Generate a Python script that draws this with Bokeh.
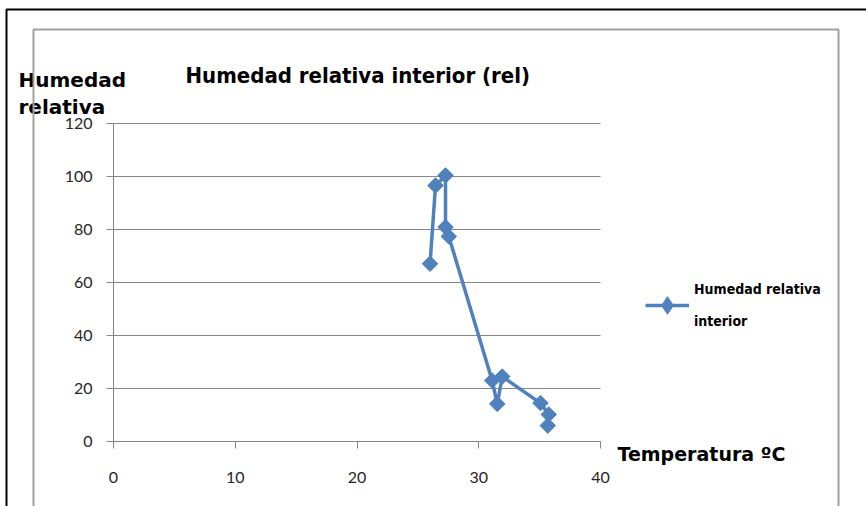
import numpy as np
from bokeh.plotting import figure
from bokeh.models import Range1d, FixedTicker, Label, Legend, LegendItem, BoxAnnotation, Grid
from bokeh.embed import file_html
from bokeh.resources import INLINE

# ---- data ----
temperatura = [26.0, 26.45, 27.27, 27.27, 27.54, 31.1, 31.52, 31.93, 35.07, 35.75, 35.67]
humedad = [67.1, 96.6, 100.4, 80.9, 77.4, 23.0, 14.2, 24.5, 14.5, 10.2, 6.0]
x_ticks = [0, 10, 20, 30, 40]
y_ticks = [0, 20, 40, 60, 80, 100, 120]
title_text = "Humedad relativa interior (rel)"
y_label_lines = ["Humedad", "relativa"]
x_label_text = "Temperatura ºC"
series_name = "Humedad relativa\n\ninterior"

BLUE = "#4F81BD"
GRAY = "#868686"
NARROW = "DejaVu Sans Condensed, Liberation Sans Narrow, DejaVu Sans, sans-serif"

# plot-area geometry in pixels (where 0..40 and 0..120 sit on the canvas)
FL, FR, FT, FB = 113, 600, 123, 441
W, H = 866, 506
X0, X1 = 0, 40
Y0, Y1 = 0, 120


def px2x(px):
    return X0 + (px - FL) / (FR - FL) * (X1 - X0)


def py2y(py):
    return Y0 + (FB - py) / (FB - FT) * (Y1 - Y0)


p = figure(width=W, height=H,
           x_range=Range1d(px2x(0), px2x(W)), y_range=Range1d(py2y(H), py2y(0)),
           output_backend="svg", toolbar_location=None, title=None,
           min_border=0)
p.background_fill_color = "white"
p.border_fill_color = "white"
p.outline_line_color = None

# axes placed at the data origin, limited to the data extent
for ax, ticks, bnds in ((p.xaxis, x_ticks, (X0, X1)), (p.yaxis, y_ticks, (Y0, Y1))):
    ax.ticker = FixedTicker(ticks=ticks)
    ax.fixed_location = 0
    ax.bounds = bnds
    ax.axis_line_color = GRAY
    ax.major_tick_line_color = GRAY
    ax.major_tick_out = 7
    ax.major_tick_in = 0
    ax.minor_tick_out = 0
    ax.minor_tick_in = 0
    ax.major_label_text_font = "Lato"
    ax.major_label_text_font_size = "16px"
    ax.major_label_text_color = "#262626"
p.xaxis.major_label_standoff = 23
p.yaxis.major_label_standoff = 14

p.xgrid.visible = False
if "cross_bounds" in Grid.properties():
    p.ygrid.ticker = FixedTicker(ticks=y_ticks)
    p.ygrid.bounds = (Y0, Y1)
    p.ygrid.cross_bounds = (X0, X1)
    p.ygrid.grid_line_color = GRAY
else:
    p.ygrid.visible = False
    p.segment(x0=[X0] * len(y_ticks), x1=[X1] * len(y_ticks), y0=y_ticks, y1=y_ticks,
              line_color=GRAY, line_width=1, level="underlay")

# series
line_r = p.line(temperatura, humedad, line_color=BLUE, line_width=3.5)
scat_r = p.scatter(temperatura, humedad, marker="square", size=11, angle=np.pi / 4,
                   fill_color=BLUE, line_color=BLUE)
# legend swatch marker: same series, hidden on the plot, diamond shape for the legend
leg_marker = p.scatter(temperatura, humedad, marker="diamond", size=13,
                       fill_color=BLUE, line_color=BLUE, visible=False)

# texts
p.add_layout(Label(x=px2x(185), y=py2y(75), text=title_text,
                   text_font=NARROW, text_font_style="bold", text_color="black",
                   text_font_size="22px", text_baseline="alphabetic", text_align="left"))
for txt, base in zip(y_label_lines, [79, 106]):
    p.add_layout(Label(x=px2x(18), y=py2y(base), text=txt,
                       text_font="DejaVu Sans", text_font_style="bold", text_color="black",
                       text_font_size="20px", text_baseline="alphabetic", text_align="left"))
p.add_layout(Label(x=px2x(617), y=py2y(453), text=x_label_text,
                   text_font="DejaVu Sans", text_font_style="bold", text_color="black",
                   text_font_size="19px", text_baseline="alphabetic", text_align="left"))

legend = Legend(items=[LegendItem(label=series_name, renderers=[line_r, leg_marker])],
                location=(645, H - 331), padding=0, margin=0,
                border_line_color=None, background_fill_alpha=0,
                glyph_width=44, glyph_height=52, label_standoff=5, spacing=0,
                label_text_font=NARROW, label_text_font_style="bold",
                label_text_color="black", label_text_font_size="14px")
p.add_layout(legend)

# chart borders
p.add_layout(BoxAnnotation(left=px2x(6), right=px2x(2000), top=py2y(9), bottom=py2y(2000),
                           fill_alpha=0, line_color="black", line_alpha=1, line_width=2))
p.add_layout(BoxAnnotation(left=px2x(33), right=px2x(838), top=py2y(29), bottom=py2y(2000),
                           fill_alpha=0, line_color="#a0a0a0", line_alpha=1, line_width=2))

open("out.html", "w").write(file_html(p, INLINE))
